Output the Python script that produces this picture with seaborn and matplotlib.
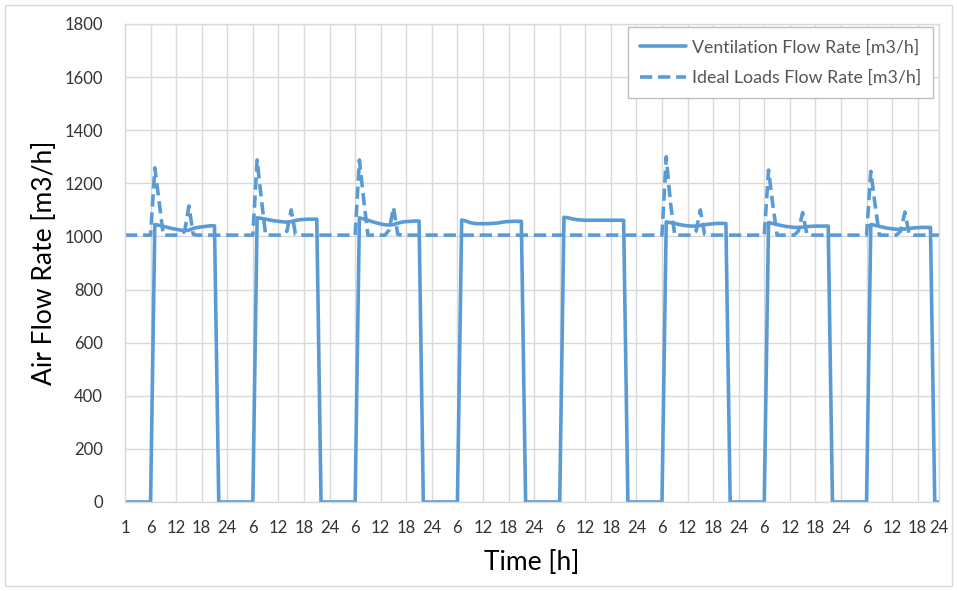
import matplotlib
matplotlib.use("Agg")
import matplotlib.pyplot as plt
import numpy as np
import pandas as pd
import seaborn as sns
from matplotlib.patches import Rectangle

# hourly values, 8 days x 24 hours
vent_day1 = [0, 0, 0, 0, 0, 0, 0, 1045, 1042, 1038, 1034, 1030, 1027, 1024, 1022, 1024, 1030, 1034, 1036, 1038, 1040, 1040, 0, 0]
vent_day2 = [0, 0, 0, 0, 0, 0, 0, 1070, 1068, 1065, 1062, 1059, 1057, 1055, 1054, 1056, 1060, 1063, 1064, 1065, 1065, 1065, 0, 0]
vent_day3 = [0, 0, 0, 0, 0, 0, 0, 1070, 1066, 1061, 1056, 1051, 1047, 1044, 1043, 1045, 1050, 1054, 1056, 1057, 1058, 1058, 0, 0]
vent_day4 = [0, 0, 0, 0, 0, 0, 0, 1062, 1058, 1052, 1049, 1048, 1048, 1048, 1049, 1050, 1052, 1055, 1056, 1057, 1057, 1057, 0, 0]
vent_day5 = [0, 0, 0, 0, 0, 0, 0, 1072, 1070, 1066, 1063, 1062, 1061, 1061, 1061, 1061, 1061, 1061, 1061, 1061, 1061, 1061, 0, 0]
vent_day6 = [0, 0, 0, 0, 0, 0, 0, 1055, 1052, 1049, 1045, 1042, 1040, 1039, 1039, 1041, 1044, 1046, 1048, 1049, 1049, 1049, 0, 0]
vent_day7 = [0, 0, 0, 0, 0, 0, 0, 1052, 1049, 1045, 1041, 1038, 1036, 1034, 1034, 1035, 1037, 1038, 1039, 1039, 1039, 1039, 0, 0]
vent_day8 = [0, 0, 0, 0, 0, 0, 0, 1045, 1042, 1038, 1034, 1031, 1029, 1027, 1027, 1028, 1030, 1032, 1033, 1034, 1034, 1034, 0, 0]

ideal_day1 = [1005] * 7 + [1258, 1130] + [1005] * 5 + [1020, 1115, 1008] + [1005] * 7
ideal_day2 = [1005] * 7 + [1288, 1140] + [1005] * 5 + [1020, 1100, 1008] + [1005] * 7
ideal_day3 = [1005] * 7 + [1288, 1140] + [1005] * 5 + [1025, 1110, 1008] + [1005] * 7
ideal_day4 = [1005] * 24
ideal_day5 = [1005] * 24
ideal_day6 = [1005] * 7 + [1300, 1125] + [1005] * 5 + [1020, 1100, 1008] + [1005] * 7
ideal_day7 = [1005] * 7 + [1250, 1120] + [1005] * 5 + [1020, 1090, 1008] + [1005] * 7
ideal_day8 = [1005] * 7 + [1245, 1120] + [1005] * 5 + [1020, 1092, 1008] + [1005] * 7

tick_labels = ["1", "6", "12", "18", "24"] + ["6", "12", "18", "24"] * 7

ventilation = vent_day1 + vent_day2 + vent_day3 + vent_day4 + vent_day5 + vent_day6 + vent_day7 + vent_day8
ideal = ideal_day1 + ideal_day2 + ideal_day3 + ideal_day4 + ideal_day5 + ideal_day6 + ideal_day7 + ideal_day8
hours = np.arange(len(ventilation))

df = pd.DataFrame({"hour": hours, "vent": ventilation, "ideal": ideal})

sns.set_theme(style="white")
plt.rcParams['font.family'] = ['Lato', 'DejaVu Sans']

blue = "#5B9BD5"
grid = "#d9d9d9"
txt = "#333333"

fig = plt.figure(figsize=(9.57, 5.91), dpi=100)
ax = fig.add_axes([125 / 957, 1 - 502 / 591, (939 - 125) / 957, (502 - 24) / 591])

sns.lineplot(data=df, x="hour", y="vent", ax=ax, color=blue, lw=2.6,
             label="Ventilation Flow Rate [m3/h]")
sns.lineplot(data=df, x="hour", y="ideal", ax=ax, color=blue, lw=2.6,
             linestyle=(0, (3.4, 1.6)), label="Ideal Loads Flow Rate [m3/h]")

ticks = list(range(0, 187, 6)) + [191]
ax.set_xticks(ticks)
ax.set_xticklabels(tick_labels)
ax.set_xlim(0, 191)
ax.set_ylim(0, 1800)
ax.set_yticks(range(0, 1801, 200))

ax.grid(True, color=grid, lw=1)
ax.set_axisbelow(True)
for s in ax.spines.values():
    s.set_color(grid)
    s.set_linewidth(1)
ax.tick_params(length=0, labelsize=12, colors=txt)
ax.tick_params(axis="x", pad=13)
ax.tick_params(axis="y", pad=16)

ax.set_xlabel("Time [h]", fontsize=19, color="black", labelpad=10)
ax.set_ylabel("Air Flow Rate [m3/h]", fontsize=19, color="black", labelpad=5)

leg = ax.legend(loc="upper right", bbox_to_anchor=(0.993, 0.994), borderaxespad=0,
                fancybox=False, framealpha=1, edgecolor="#bfbfbf", fontsize=12.8,
                handlelength=2.6, handletextpad=0.3, labelspacing=0.8, borderpad=0.7)
for t in leg.get_texts():
    t.set_color("#555555")

fig.patches.append(Rectangle((5 / 957, 5 / 591), 947 / 957, 581 / 591, transform=fig.transFigure,
                             fill=False, edgecolor=grid, lw=1))

fig.savefig("out.png", dpi=100)
